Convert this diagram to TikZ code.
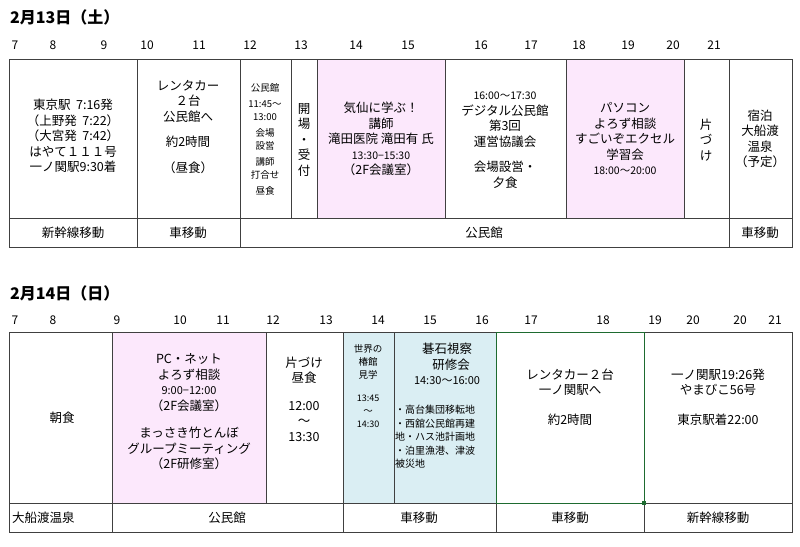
\documentclass[tikz,border=0pt]{standalone}
\usepackage{fontspec}
\setmainfont{Noto Sans CJK JP}
\definecolor{pk}{HTML}{FCE8FC}
\definecolor{bl}{HTML}{DAEEF3}
\definecolor{gr}{HTML}{1E6B30}
\begin{document}
\begin{tikzpicture}[x=1pt,y=-1pt,
  ln/.style={draw=black!75,line width=0.9pt},
  tx/.style={align=center,font=\fontsize{12.5}{15.5}\selectfont,inner sep=0pt},
  sm/.style={align=center,font=\fontsize{9.5}{13}\selectfont,inner sep=0pt},
  hr/.style={font=\fontsize{12}{13}\selectfont,inner sep=0pt},
  ttl/.style={font=\fontsize{16}{18}\selectfont\bfseries,anchor=west,inner sep=0pt}]
\useasboundingbox (0,0) rectangle (800,546);
% ---- Day 1
\node[ttl] (t1) at (10,17) {2月13日（土）};
\foreach \h/\x in {7/15,8/53,9/104,10/147,11/199,12/250,13/301,14/356,15/408,16/481,17/531,18/579,19/628,20/673,21/714}
  \node[hr] (a\h) at (\x,45) {\h};
\fill[pk] (317,59) rectangle (445,218);
\fill[pk] (566,59) rectangle (684,218);
\draw[ln] (9,59) rectangle (792,247);
\draw[ln] (9,218) -- (792,218);
\foreach \x in {137,240,729} \draw[ln] (\x,59) -- (\x,247);
\foreach \x in {291,317,445,566,684} \draw[ln] (\x,59) -- (\x,218);
\node[tx] (c1) at (73,136) {東京駅\ \ 7:16発\\（上野発\ \ 7:22）\\（大宮発\ \ 7:42）\\はやて１１１号\\一ノ関駅9:30着};
\node[tx] (c2) at (188,127) {レンタカー\\２台\\公民館へ\\[10pt]約2時間\\[10pt]（昼食）};
\node[sm] (c3) at (265,139) {公民館\\[3pt]11:45～\\13:00\\[3pt]会場\\設営\\[3pt]講師\\打合せ\\[3pt]昼食};
\node[tx] (c4) at (304,140) {開\\場\\・\\受\\付};
\node[tx] (c5) at (381,139) {気仙に学ぶ！\\講師\\滝田医院 滝田有 氏\\{\fontsize{10.5}{13}\selectfont 13:30−15:30}\\（2F会議室）};
\node[tx] (c6) at (505,140) {{\fontsize{10.5}{13}\selectfont 16:00～17:30}\\デジタル公民館\\第3回\\運営協議会\\[10pt]会場設営・\\夕食};
\node[tx] (c7) at (625,139) {パソコン\\よろず相談\\すごいぞエクセル\\学習会\\{\fontsize{10.5}{13}\selectfont 18:00～20:00}};
\node[tx] (c8) at (706,140) {片\\づ\\け};
\node[tx] (c9) at (760,139) {宿泊\\大船渡\\温泉\\（予定）};
\node[tx] (b1) at (73,233) {新幹線移動};
\node[tx] (b2) at (188,233) {車移動};
\node[tx] (b3) at (484,233) {公民館};
\node[tx] (b4) at (760,233) {車移動};
% ---- Day 2
\node[ttl] (t2) at (10,293) {2月14日（日）};
\foreach \h/\x/\n in {7/15/1,8/53/2,9/117/3,10/180/4,11/223/5,12/273/6,13/326/7,14/378/8,15/430/9,16/482/10,17/531/11,18/603/12,19/655/13,20/693/14,20/740/15,21/775/16}
  \node[hr] (d\n) at (\x,320) {\h};
\fill[pk] (112,332) rectangle (266,503);
\fill[bl] (343,332) rectangle (496,503);
\draw[ln] (9,332) rectangle (792,532);
\draw[ln] (9,503) -- (792,503);
\foreach \x in {112,343,644} \draw[ln] (\x,332) -- (\x,532);
\foreach \x in {266,394} \draw[ln] (\x,332) -- (\x,503);
\draw[ln] (496,503) -- (496,532);
\draw[gr,line width=1pt] (496,332) rectangle (644,503);
\fill[gr] (642,501) rectangle (646,505);
\node[tx] (e1) at (62,418) {朝食};
\node[tx] (e2) at (189,412) {PC・ネット\\よろず相談\\{\fontsize{11}{14}\selectfont 9:00−12:00}\\（2F会議室）\\[12pt]まっさき竹とんぼ\\グループミーティング\\（2F研修室）};
\node[tx] (e3) at (304,399) {片づけ\\昼食\\[12pt]12:00\\～\\13:30};
\node[sm,anchor=north] (e4) at (368,344) {世界の\\椿館\\見学\\[10pt]{\fontsize{9}{13}\selectfont 13:45}\\～\\{\fontsize{9}{13}\selectfont 14:30}};
\node[tx,anchor=north] (e5) at (447,343) {碁石視察\\\ \ \ 研修会\\{\fontsize{11}{15}\selectfont 14:30～16:00}};
\node[sm,anchor=north west,align=left,font=\fontsize{10}{13.5}\selectfont] (e6) at (395,405) {・高台集団移転地\\・西舘公民館再建\\地・ハス池計画地\\・泊里漁港、津波\\被災地};
\node[tx] (e7) at (570,397) {レンタカー２台\\一ノ関駅へ\\[14pt]約2時間};
\node[tx] (e8) at (718,397) {一ノ関駅19:26発\\やまびこ56号\\[14pt]東京駅着22:00};
\node[tx,anchor=west] (f1) at (12,518) {大船渡温泉};
\node[tx] (f2) at (227,518) {公民館};
\node[tx] (f3) at (419,518) {車移動};
\node[tx] (f4) at (570,518) {車移動};
\node[tx] (f5) at (718,518) {新幹線移動};
\end{tikzpicture}
\end{document}
